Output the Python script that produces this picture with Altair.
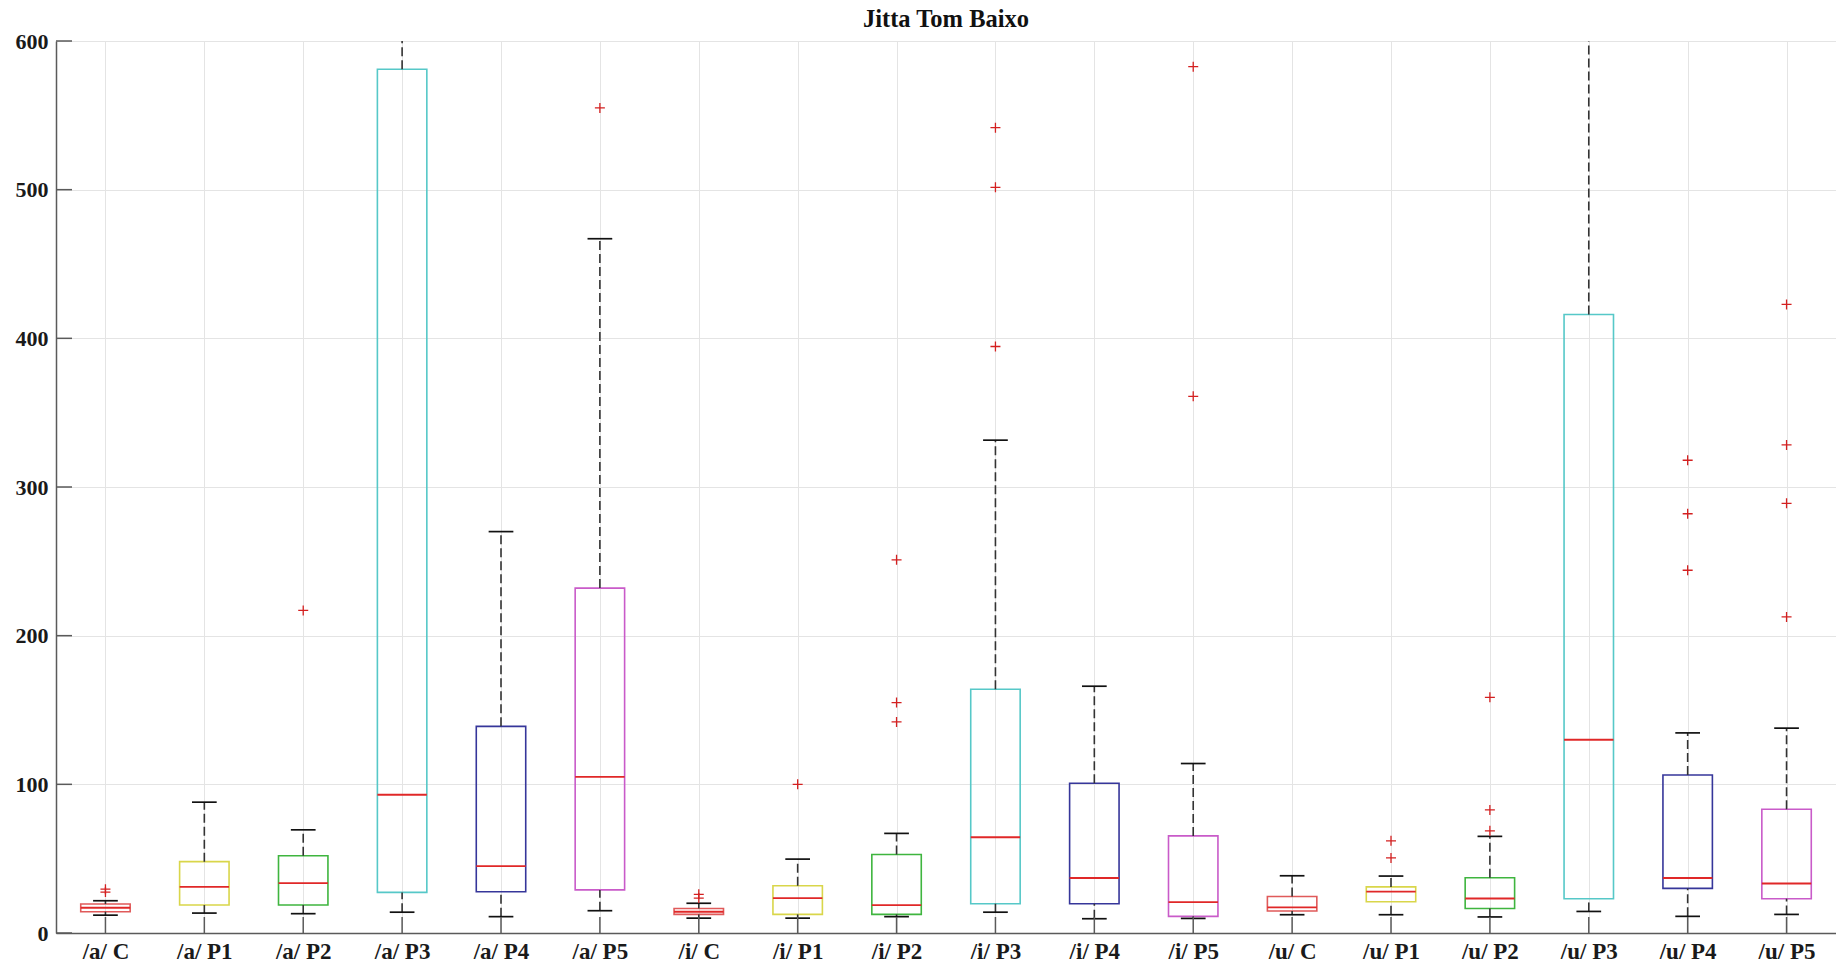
import altair as alt
import pandas as pd

# ---- data ----
names = ['/a/ C', '/a/ P1', '/a/ P2', '/a/ P3', '/a/ P4', '/a/ P5',
         '/i/ C', '/i/ P1', '/i/ P2', '/i/ P3', '/i/ P4', '/i/ P5',
         '/u/ C', '/u/ P1', '/u/ P2', '/u/ P3', '/u/ P4', '/u/ P5']
whisk_lo = [12, 13.4, 13, 14, 11, 15, 10, 10, 11, 14, 9.6, 9.8, 12.3, 12.3, 10.8, 14.5, 11.2, 12.5]
q1 = [14.3, 18.8, 18.8, 27.3, 27.7, 29, 12.5, 12.5, 12.5, 19.7, 19.7, 11.2, 14.8, 21.0, 16.5, 23, 30, 23]
median = [17, 31, 33.5, 93, 45, 105, 14.3, 23.5, 18.8, 64.4, 37, 20.8, 17.2, 27.8, 23.2, 130, 37, 33.3]
q3 = [19.5, 48, 52, 581, 139, 232, 16.5, 31.8, 52.8, 164, 100.7, 65.3, 24.6, 31.0, 37.2, 416, 106.3, 83.2]
# /a/ P3 and /u/ P3 upper whiskers run off the top of the axis (beyond 600)
whisk_hi = [21.7, 88, 69.4, 650, 270, 467, 20, 49.7, 67, 331.5, 166, 114, 38.5, 38.3, 65.0, 650, 134.6, 137.8]

outlier_cat = ['/a/ C', '/a/ C', '/a/ P2', '/a/ P5',
               '/i/ C', '/i/ C', '/i/ P1', '/i/ P2', '/i/ P2', '/i/ P2',
               '/i/ P3', '/i/ P3', '/i/ P3', '/i/ P5', '/i/ P5',
               '/u/ P1', '/u/ P1', '/u/ P2', '/u/ P2', '/u/ P2',
               '/u/ P4', '/u/ P4', '/u/ P4',
               '/u/ P5', '/u/ P5', '/u/ P5', '/u/ P5']
outlier_val = [29.5, 27.5, 217, 555,
               26, 23.5, 100, 251, 155, 142,
               541.7, 501.6, 394.5, 361, 582.7,
               62, 50.5, 68.7, 82.8, 158.5,
               318, 282, 244,
               422.8, 328.3, 289, 212.6]

y_ticks = [0, 100, 200, 300, 400, 500, 600]

# ---- styles ----
group_colors = {'C': '#e05a5a', 'P1': '#d9d64a', 'P2': '#3fb53f',
                'P3': '#56c8c8', 'P4': '#36369a', 'P5': '#c95bc9'}

idx = list(range(1, len(names) + 1))
box = pd.DataFrame({
    'i': idx, 'name': names, 'wlo': whisk_lo, 'q1': q1, 'med': median,
    'q3': q3, 'whi': whisk_hi,
})
box['lo'] = box['i'] - 0.25
box['hi'] = box['i'] + 0.25
box['clo'] = box['i'] - 0.125
box['chi'] = box['i'] + 0.125
box['color'] = [group_colors[n.split(' ')[1]] for n in names]

pos = {n: k + 1 for k, n in enumerate(names)}
outl = pd.DataFrame({'i': [pos[c] for c in outlier_cat], 'v': outlier_val})
yt = pd.DataFrame({'v': y_ticks})

W, H = 1780, 892
FONT = 'Liberation Serif'
label_expr = '[' + ','.join("'%s'" % n for n in names) + '][datum.value-1]'

xscale = alt.Scale(domain=[0.5, len(names) + 0.5], nice=False, zero=False)
yscale = alt.Scale(domain=[0, 600], nice=False)

xaxis = alt.Axis(values=idx, labelExpr=label_expr, title=None, grid=True,
                 gridColor='#e4e4e4', ticks=False, domainColor='#5a5a5a',
                 domainWidth=1.5, labelFont=FONT, labelFontSize=23,
                 labelFontWeight='bold', labelColor='#1a1a1a', labelPadding=7,
                 labelFlush=False, labelOverlap=False)
yaxis = alt.Axis(values=y_ticks, title=None, grid=True, gridColor='#e4e4e4',
                 ticks=False, domainColor='#5a5a5a', domainWidth=1.5,
                 labelFont=FONT, labelFontSize=22, labelFontWeight='bold',
                 labelColor='#1a1a1a', labelPadding=8)

base = alt.Chart(box)

rects = base.mark_rect(fillOpacity=0, strokeWidth=1.6, clip=True).encode(
    x=alt.X('lo:Q', scale=xscale, axis=xaxis),
    x2='hi:Q',
    y=alt.Y('q1:Q', scale=yscale, axis=yaxis),
    y2='q3:Q',
    stroke=alt.Stroke('color:N', scale=None),
)

whisk_up = base.mark_rule(strokeDash=[9, 4], strokeWidth=1.6, color='#333333', clip=True).encode(
    x=alt.X('i:Q', scale=xscale), y=alt.Y('q3:Q', scale=yscale), y2='whi:Q')
whisk_dn = base.mark_rule(strokeDash=[9, 4], strokeWidth=1.6, color='#333333', clip=True).encode(
    x=alt.X('i:Q', scale=xscale), y=alt.Y('wlo:Q', scale=yscale), y2='q1:Q')

cap_up = base.mark_rule(strokeWidth=1.7, color='#111111', clip=True).encode(
    x=alt.X('clo:Q', scale=xscale), x2='chi:Q', y=alt.Y('whi:Q', scale=yscale))
cap_dn = base.mark_rule(strokeWidth=1.7, color='#111111', clip=True).encode(
    x=alt.X('clo:Q', scale=xscale), x2='chi:Q', y=alt.Y('wlo:Q', scale=yscale))

med = base.mark_rule(strokeWidth=1.8, color='#e02828', clip=True).encode(
    x=alt.X('lo:Q', scale=xscale), x2='hi:Q', y=alt.Y('med:Q', scale=yscale))

pts = alt.Chart(outl).mark_point(shape='M-1,0L1,0M0,-1L0,1', filled=False,
                                 size=100, strokeWidth=1.3, color='#d42020',
                                 opacity=1, clip=True).encode(
    x=alt.X('i:Q', scale=xscale), y=alt.Y('v:Q', scale=yscale))

xticks = base.mark_rule(strokeWidth=1.5, color='#5a5a5a').encode(
    x=alt.X('i:Q', scale=xscale), y=alt.value(H), y2=alt.value(H - 16))
yticks = alt.Chart(yt).mark_rule(strokeWidth=1.5, color='#5a5a5a').encode(
    y=alt.Y('v:Q', scale=yscale), x=alt.value(0), x2=alt.value(16))

chart = alt.layer(rects, whisk_up, whisk_dn, cap_up, cap_dn, med, pts, xticks, yticks).properties(
    width=W, height=H,
    title=alt.TitleParams('Jitta Tom Baixo', font=FONT, fontSize=24.5, fontWeight='bold',
                          color='#111111', anchor='middle', offset=-2),
    padding={'left': 56, 'top': 41, 'right': 0, 'bottom': 32},
    autosize=alt.AutoSizeParams(type='none'),
).configure_view(stroke=None)

chart.save('out.html', embed_options={'renderer': 'svg', 'actions': False})
